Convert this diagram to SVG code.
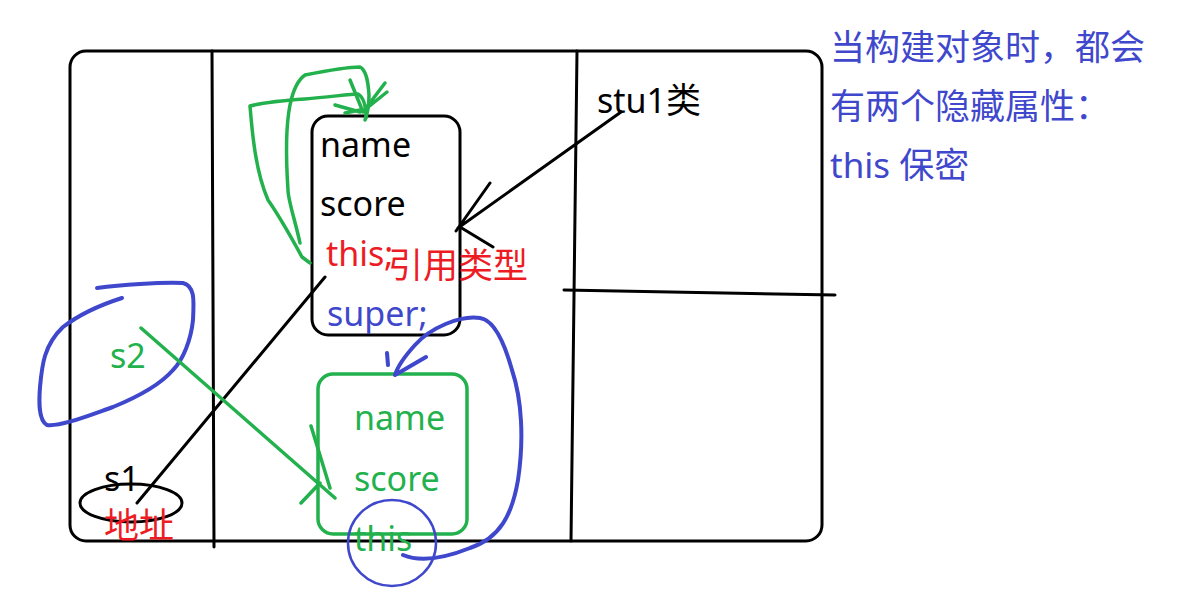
<svg xmlns="http://www.w3.org/2000/svg" width="1181" height="601" viewBox="0 0 1181 601">
<style>
.k{fill:none;stroke:#000;stroke-width:3;stroke-linecap:round;stroke-linejoin:round}
.g{fill:none;stroke:#22b14c;stroke-width:3.5;stroke-linecap:round;stroke-linejoin:round}
.b{fill:none;stroke:#3f48cc;stroke-width:4;stroke-linecap:round;stroke-linejoin:round}
.t{font-family:"Noto Sans","Noto Sans CJK SC",sans-serif;font-size:34px}
.c{font-size:35px}
.tk{fill:#000}.tg{fill:#22b14c}.tb{fill:#3f48cc}.tr{fill:#ed1c24}
</style>
<rect width="1181" height="601" fill="#fff"/>
<g id="frame">
<rect class="k" x="70" y="51" width="752" height="490" rx="16"/>
<path class="k" d="M212 51 L214 547"/>
<path class="k" d="M577 51 L571 541"/>
<path class="k" d="M564 290 L835 295"/>
</g>
<g id="stu1-object">
<rect class="k" x="312" y="116" width="148" height="219" rx="16"/>
<text class="t tk" x="320" y="157">name</text>
<text class="t tk" x="320" y="216">score</text>
<text class="t tr" x="326" y="266">this;</text>
<text class="t tb" x="327" y="326">super;</text>
</g>
<g id="ref-type">
<text class="t c tr" x="388" y="278">引用类型</text>
</g>
<g id="super-object">
<rect class="g" x="318" y="374" width="149" height="160" rx="15"/>
<text class="t tg" x="354" y="430">name</text>
<text class="t tg" x="354" y="491">score</text>
<text class="t tg" x="354" y="551">this</text>
</g>
<g id="s2">
<text class="t tg" x="110" y="368">s2</text>
<path class="b" d="M97 288 C120 285 160 282 183 283 C195 286 194 300 193 320 C191 340 183 360 173 370 C160 385 140 396 113 407 C90 415 60 427 47 425 C38 420 39 400 40 387 C42 365 44 345 63 327 C80 314 100 305 122 298"/>
</g>
<g id="s1">
<text class="t tk" x="104" y="491">s1</text>
<ellipse class="k" cx="131" cy="503" rx="51" ry="19"/>
<text class="t c tr" x="104" y="538">地址</text>
</g>
<g id="stu1-label">
<text class="t tk" x="597" y="113">stu1<tspan class="c">类</tspan></text>
</g>
<g id="note">
<text class="t c tb" x="830" y="60">当构建对象时，都会</text>
<text class="t c tb" x="830" y="119">有两个隐藏属性：</text>
<text class="t c tb" x="830" y="178">this 保密</text>
</g>
<g id="connectors">
<path class="k" d="M621 112 L458 228 M456 231 L490 183 M460 227 L493 247"/>
<path class="k" d="M137 503 L325 277"/>
<path class="g" d="M141 328 L335 498 M320 483 L301 503 M311 426 L330 488"/>
<path class="b" d="M403 555 C420 562 445 558 470 548 C500 538 512 515 518 480 C524 440 522 400 512 370 C505 345 495 320 480 318 C460 315 430 328 415 345 C405 356 398 365 395 375 M395 375 L426 357 M387 353 L388 365"/>
<ellipse cx="392" cy="543" rx="44" ry="43" fill="none" stroke="#3f48cc" stroke-width="2.5"/>
<path class="g" d="M310 263 L302 257 C290 235 275 210 268 200 C255 170 252 130 250 106 C265 102 290 100 305 99 C330 97 350 94 358 94 C365 98 366 108 366 118"/>
<path class="g" d="M300 243 C295 220 288 200 288 190 C286 160 285 130 290 105 C293 90 298 80 305 75 C330 70 350 67 360 67 C366 70 368 80 369 95 C369 105 367 115 365 120"/>
<path class="g" d="M350 80 L363 112 M385 83 L363 112 M387 92 L367 108 M335 105 L360 112 M345 113 L360 110"/>
</g>
</svg>
